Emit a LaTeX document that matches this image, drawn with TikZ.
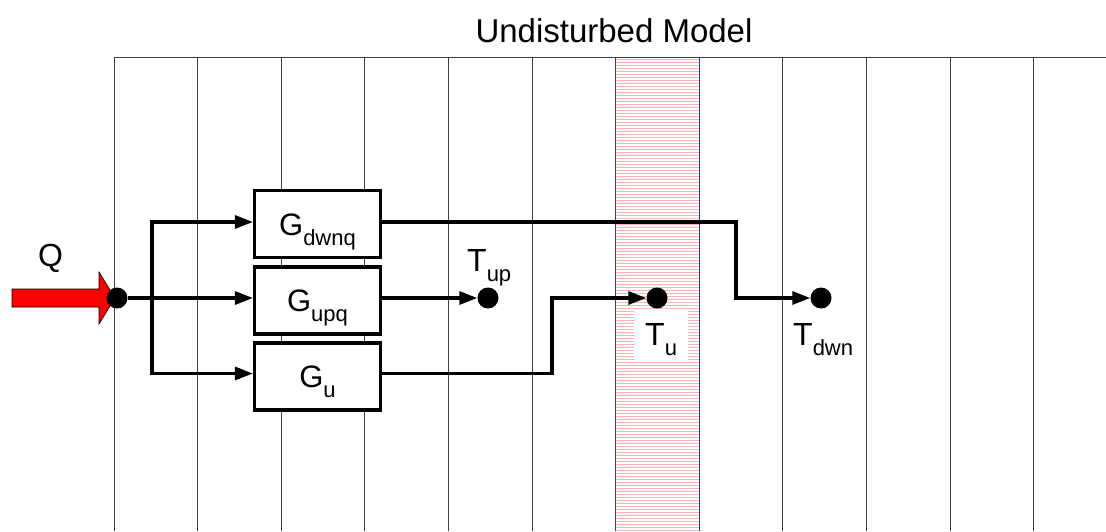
\documentclass[tikz,border=0pt]{standalone}
\usepackage{fontspec}
\setmainfont{Liberation Sans}
\usetikzlibrary{arrows.meta,patterns}
\newcommand\lsub[1]{\raisebox{-10pt}{\fontsize{22}{22}\selectfont #1}}
\begin{document}
\begin{tikzpicture}[x=1pt,y=-1pt,
  gridline/.style={draw=black!75,line width=1pt},
  gbox/.style={draw,fill=white,line width=3.2pt,minimum width=126pt,minimum height=67pt,
     inner sep=0pt,text height=22pt,text depth=0pt,font=\fontsize{31}{35}\selectfont},
  arr/.style={line width=3.2pt,-{Triangle[length=18pt,width=13pt]}},
  dot/.style={circle,fill=black,minimum size=21pt,inner sep=0pt},
  lbl/.style={inner sep=0pt,anchor=base west,font=\fontsize{32}{36}\selectfont},
  conn/.style={line width=3.2pt}]
\useasboundingbox (0,0) rectangle (1106,531);
% shaded column
\fill[pattern=horizontal lines,pattern color=red!30] (615.6,57) rectangle (699.2,531);
% grid
\draw[gridline] (114,57) -- (1106,57);
\foreach \i in {0,...,11}{
  \draw[gridline] ({114+83.6*\i},57) -- ({114+83.6*\i},531);
}
% title
\node[anchor=base,inner sep=0pt,font=\fontsize{33}{37}\selectfont] (title) at (614,42) {Undisturbed Model};
% input arrow
\filldraw[fill=red,draw=black,line width=0.6pt] (12,289) -- (99,289) -- (99,272) -- (115,298) -- (99,324) -- (99,307) -- (12,307) -- cycle;
\node[lbl] (qlabel) at (38,266) {Q};
\node[dot] (q) at (117,298) {};
% boxes
\node[gbox] (gd) at (317.5,224) {G\lsub{dwnq}};
\node[gbox] (gq) at (317.5,300.5) {G\lsub{upq}};
\node[gbox] (gu) at (317.5,376.5) {G\lsub{u}};
% branch
\coordinate (br) at (152,298);
\draw[conn] (q) -- (br);
\draw[arr] (br) -- (gq.west |- br);
\draw[arr] ([yshift=1.6pt]br) |- ([yshift=2pt]gd.west);
\draw[arr] ([yshift=-1.6pt]br) |- ([yshift=3pt]gu.west);
% output nodes
\node[dot] (tup) at (488,298) {};
\node[dot] (tu) at (657,298) {};
\node[dot] (tdwn) at (821,298) {};
\coordinate (kd) at (736,222);
\coordinate (ku) at (552,373.5);
\draw[arr] (tup -| gq.east) -- (tup);
\draw[conn] ([yshift=2pt]gd.east) -- ([xshift=1.6pt]kd);
\draw[arr] (kd) |- (tdwn);
\draw[conn] ([yshift=3pt]gu.east) -- ([xshift=1.6pt]ku);
\draw[arr] (ku) |- (tu);
% labels
\node[lbl] (tuplbl) at (467,271) {T\lsub{up}};
\node[lbl,fill=white,inner xsep=11pt,text height=35pt,text depth=17pt] (tulbl) at (634,345) {T\lsub{u}};
\node[lbl] (tdwnlbl) at (793,345) {T\lsub{dwn}};
\end{tikzpicture}
\end{document}
